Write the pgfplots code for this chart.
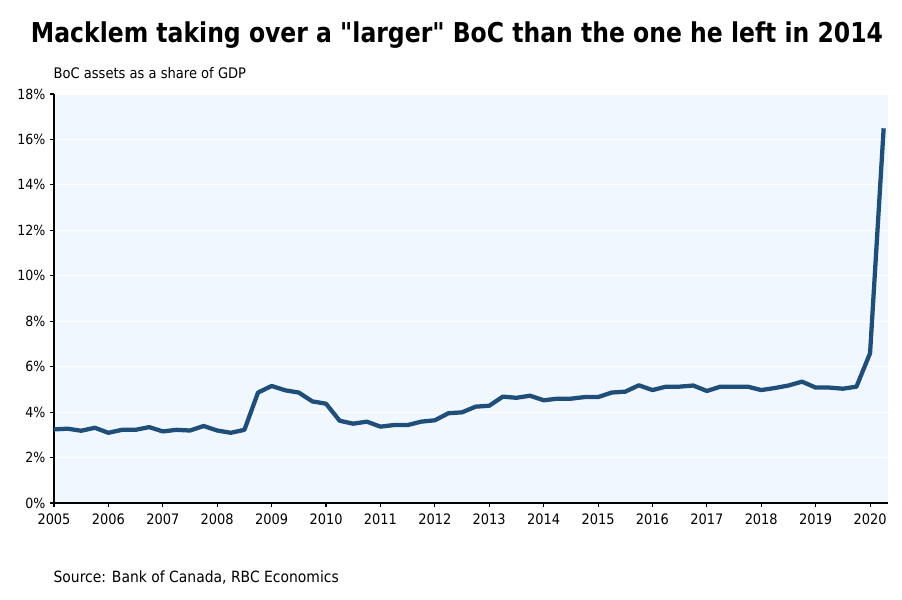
\documentclass[border=0pt]{standalone}
\usepackage{pgfplots}
\pgfplotsset{compat=1.18}
\usepackage{pgfplotstable}
\usepackage{fontspec}
\setmainfont{Liberation Sans}
\newfontfamily\titlefont[FakeStretch=0.86]{DejaVu Sans}
\newfontfamily\bodyfont[FakeStretch=0.9]{DejaVu Sans}
\definecolor{linec}{RGB}{31,78,121}
\definecolor{bgc}{RGB}{240,247,254}

\pgfplotstableread{
t v
2005.00 3.24
2005.25 3.27
2005.50 3.18
2005.75 3.31
2006.00 3.09
2006.25 3.22
2006.50 3.22
2006.75 3.34
2007.00 3.15
2007.25 3.22
2007.50 3.19
2007.75 3.39
2008.00 3.19
2008.25 3.09
2008.50 3.22
2008.75 4.86
2009.00 5.15
2009.25 4.96
2009.50 4.86
2009.75 4.47
2010.00 4.37
2010.25 3.62
2010.50 3.49
2010.75 3.58
2011.00 3.36
2011.25 3.43
2011.50 3.43
2011.75 3.58
2012.00 3.64
2012.25 3.95
2012.50 3.99
2012.75 4.24
2013.00 4.28
2013.25 4.68
2013.50 4.63
2013.75 4.72
2014.00 4.52
2014.25 4.59
2014.50 4.59
2014.75 4.66
2015.00 4.66
2015.25 4.86
2015.50 4.90
2015.75 5.18
2016.00 4.97
2016.25 5.12
2016.50 5.12
2016.75 5.17
2017.00 4.93
2017.25 5.12
2017.50 5.12
2017.75 5.12
2018.00 4.97
2018.25 5.06
2018.50 5.17
2018.75 5.34
2019.00 5.08
2019.25 5.08
2019.50 5.03
2019.75 5.12
2020.00 6.59
2020.25 16.49
}\boc

\begin{document}
\begin{tikzpicture}
\path[use as bounding box] (0,0) rectangle (676.5pt,449.25pt);
\begin{axis}[
    scale only axis,
    width=625.5pt, height=306.75pt,
    at={(40.5pt,72pt)}, anchor=south west,
    xmin=2005, xmax=2020.33,
    ymin=0, ymax=18,
    axis background/.style={fill=bgc},
    axis x line*=bottom,
    axis y line*=left,
    tick align=outside,
    major tick length=3pt,
    xtick={2005,2006,...,2020},
    ytick={0,2,...,18},
    ymajorgrids=true,
    major grid style={white, line width=0.8pt},
    xticklabel style={/pgf/number format/1000 sep={}, font=\bodyfont\fontsize{10.8}{12}\selectfont, yshift=-1.5pt},
    yticklabel={\pgfmathprintnumber{\tick}\%},
    yticklabel style={font=\bodyfont\fontsize{10.5}{12}\selectfont},
    /pgf/number format/assume math mode=true,
    axis line style={black, line width=0.8pt},
    tick style={black, line width=0.8pt},
    clip=false,
]
\addplot[linec, line width=3.2pt, line join=round, mark=none] table[x=t, y=v] {\boc};
\end{axis}
\node[anchor=center] at (342.75pt,423pt) {\titlefont\bfseries\fontsize{20.5}{24}\selectfont Macklem taking over a "larger" BoC than the one he left in 2014};
\node[anchor=west, inner sep=0pt] at (40pt,394.5pt) {\bodyfont\fontsize{10.9}{12}\selectfont BoC assets as a share of GDP};
\node[anchor=west, inner sep=0pt] at (40pt,15.75pt) {\bodyfont\fontsize{11.6}{13}\selectfont Source: Bank of Canada, RBC Economics};
\end{tikzpicture}
\end{document}
